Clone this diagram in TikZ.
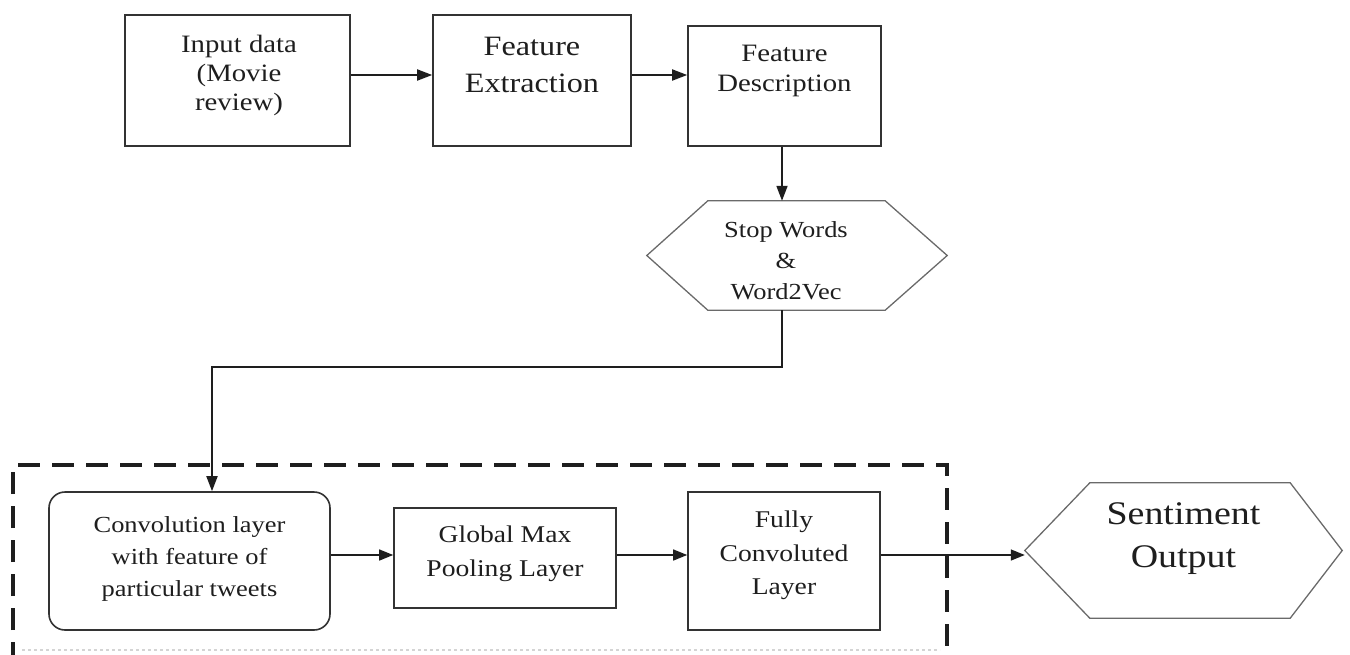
\documentclass[tikz,border=0pt]{standalone}
\usepackage{fontspec}
\setmainfont{Liberation Serif}[FakeStretch=1.15]
\usetikzlibrary{arrows.meta,calc}

\definecolor{ink}{HTML}{1E1E1E}
\definecolor{edge}{HTML}{333333}
\definecolor{hexedge}{HTML}{6A6A6A}
\definecolor{faint}{HTML}{D4D4D4}

\tikzset{
  box/.style={draw=edge, line width=1.6pt, fill=white, inner sep=0pt},
  roundbox/.style={box, rounded corners=16pt},
  shell/.style={inner sep=0pt, draw=none},
  hexline/.style={draw=hexedge, line width=1.3pt, line join=miter},
  txt/.style={align=center, text=ink, inner sep=0pt},
  arr/.style={draw=ink, line width=1.8pt, -{Triangle[length=15pt,width=11pt]}},
  arrthin/.style={draw=ink, line width=1.4pt, -{Triangle[length=14pt,width=11pt]}},
  groupframe/.style={draw=ink, line width=4pt, dash pattern=on 22pt off 12pt},
  groupbase/.style={draw=faint, line width=1.5pt, dash pattern=on 3pt off 3pt}
}

\begin{document}
\begin{tikzpicture}[x=1pt,y=-1pt]
\useasboundingbox (0,0) rectangle (1350,654);

% dashed group around the network layers (its lower edge runs off the page)
\draw[groupframe] (13,664) -- (13,465) -- (947,465) -- (947,664);
\draw[groupbase] (22,650) -- (940,650);

% top row of processing steps
\node[box, minimum width=225pt, minimum height=131pt] (in) at (237.5,80.5) {};
\node[txt, font=\fontsize{25}{29}\selectfont] (in-t) at (239,75) {Input data\\(Movie\\review)};

\node[box, minimum width=198pt, minimum height=131pt] (fe) at (532,80.5) {};
\node[txt, font=\fontsize{28}{37}\selectfont] (fe-t) at (532,65) {Feature\\Extraction};

\node[box, minimum width=193pt, minimum height=120pt] (desc) at (784.5,86) {};
\node[txt, font=\fontsize{25}{30}\selectfont] (desc-t) at (784.5,71) {Feature\\Description};

% preprocessing hexagon
\node[shell, minimum width=300pt, minimum height=109pt] (stop) at (797,255.5) {};
\draw[hexline] (stop.west) -- ([xshift=61pt]stop.north west) -- ([xshift=-62pt]stop.north east)
  -- (stop.east) -- ([xshift=-62pt]stop.south east) -- ([xshift=61pt]stop.south west) -- cycle;
\node[txt, font=\fontsize{23}{31}\selectfont] (stop-t) at (786,260.5) {Stop Words\\\&\\Word2Vec};

% network layers
\node[roundbox, minimum width=281pt, minimum height=138pt] (conv) at (189.5,561) {};
\node[txt, font=\fontsize{23}{32}\selectfont] (conv-t) at (189.5,558.5) {Convolution layer\\with feature of\\particular tweets};

\node[box, minimum width=222pt, minimum height=100pt] (gm) at (505,558) {};
\node[txt, font=\fontsize{24}{34}\selectfont] (gm-t) at (505,554) {Global Max\\Pooling Layer};

\node[box, minimum width=192pt, minimum height=138pt] (fc) at (784,561) {};
\node[txt, font=\fontsize{24}{33.5}\selectfont] (fc-t) at (784,555.5) {Fully\\Convoluted\\Layer};

% output hexagon
\node[shell, minimum width=317pt, minimum height=135pt] (sent) at (1183.5,550.5) {};
\draw[hexline] (sent.west) -- ([xshift=65pt]sent.north west) -- ([xshift=-52pt]sent.north east)
  -- (sent.east) -- ([xshift=-52pt]sent.south east) -- ([xshift=65pt]sent.south west) -- cycle;
\node[txt, font=\fontsize{33}{43}\selectfont] (sent-t) at (1183.5,538.5) {Sentiment\\Output};

% connectors
\coordinate (toprow) at (0,75);
\coordinate (botrow) at (0,555);
\coordinate (bend) at (212,367);
\coordinate (drop) at (782,0);

\draw[arr] (in.east |- toprow) -- (fe.west |- toprow);
\draw[arr] (fe.east |- toprow) -- (desc.west |- toprow);
\draw[arr] (drop |- desc.south) -- (drop |- stop.north);
\draw[arr] (drop |- stop.south) |- (bend) -- (bend |- conv.north);
\draw[arrthin] (conv.east |- botrow) -- (gm.west |- botrow);
\draw[arrthin] (gm.east |- botrow) -- (fc.west |- botrow);
\draw[arrthin] (fc.east |- botrow) -- (sent.west |- botrow);
\end{tikzpicture}
\end{document}
